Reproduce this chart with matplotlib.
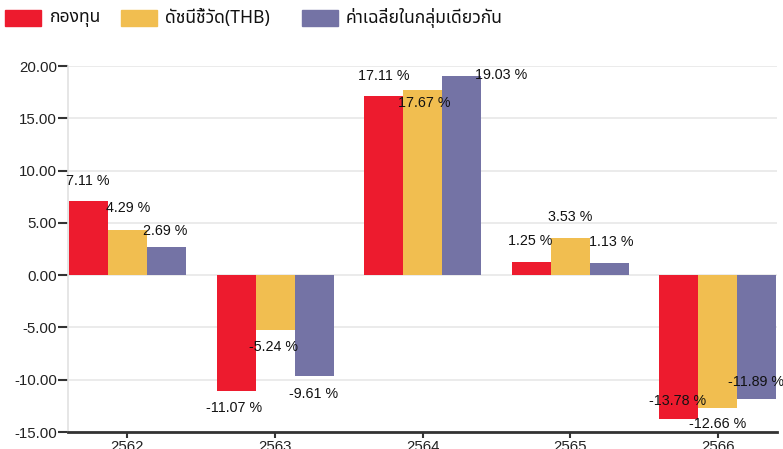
import matplotlib
matplotlib.use('Agg')
import matplotlib.pyplot as plt
from matplotlib import font_manager
from matplotlib.patches import Rectangle
import numpy as np

# ---------------- data ----------------
years = ['2562', '2563', '2564', '2565', '2566']
series_names = ['กองทุน', 'ดัชนีชี้วัด(THB)', 'ค่าเฉลี่ยในกลุ่มเดียวกัน']
fund = [7.11, -11.07, 17.11, 1.25, -13.78]
benchmark = [4.29, -5.24, 17.67, 3.53, -12.66]
peer_avg = [2.69, -9.61, 19.03, 1.13, -11.89]
yticks = [-15, -10, -5, 0, 5, 10, 15, 20]

# ---------------- style ----------------
colors = ['#ED1B2E', '#F1BE50', '#7473A5']
# label offsets in pixels: (dx from bar left edge to text left, dy from bar end to text centre)
label_offsets = [
    [(-3.5, 20), (-10.5, -17), (-6, 20), (-4, 21), (-10, 18)],
    [(-2, 22), (-7, -17), (-5, -13), (-3, 21), (-9, -16)],
    [(-4, 16), (-6, -18.5), (33, 1), (-1, 21), (-9, 17)],
]


def find_thai_font():
    try:
        from fontTools.ttLib import TTFont
    except Exception:
        return None
    found = []
    seen = set()
    for f in font_manager.fontManager.ttflist:
        if f.fname in seen:
            continue
        seen.add(f.fname)
        try:
            t = TTFont(f.fname, fontNumber=0, lazy=True)
            cmap = t.getBestCmap()
            if cmap and 0x0E01 in cmap:
                found.append(f.name)
        except Exception:
            pass
    pref = ['Tahoma', 'Noto Sans Thai', 'Noto Sans Thai UI', 'Loma', 'Garuda', 'Sarabun',
            'TH Sarabun New', 'Norasi', 'Kinnari', 'Waree', 'Umpush']
    for p in pref:
        if p in found:
            return p
    return found[0] if found else None


thai = find_thai_font()
base_family = ['Liberation Sans', 'DejaVu Sans']
thai_family = ([thai] if thai else []) + base_family
plt.rcParams['font.family'] = base_family

W, H = 783, 449
fig = plt.figure(figsize=(W / 100, H / 100), dpi=100)
ax = fig.add_axes([68 / W, (H - 432) / H, (777 - 68) / W, (432 - 66) / H])

x = np.arange(len(years))
w = 0.264
all_series = [fund, benchmark, peer_avg]
for j, vals in enumerate(all_series):
    xs = x + (j - 1) * w
    ax.bar(xs, vals, w, color=colors[j], zorder=2)
    for i, v in enumerate(vals):
        dx, dy = label_offsets[j][i]
        ax.annotate(f'{v:.2f} %', xy=(xs[i] - w / 2, v), xytext=(dx, dy),
                    textcoords='offset pixels', ha='left', va='center',
                    fontsize=10.3, color='#111111', zorder=5, annotation_clip=False)

ax.set_xlim(-0.403, 4.40)
ax.set_ylim(-15, 20)
ax.set_yticks(yticks)
ax.set_yticklabels([f'{t:.2f}' for t in yticks])
ax.set_xticks(x)
ax.set_xticklabels(years)

ax.yaxis.grid(True, color='#e8e8e8', lw=1.2, zorder=0)
ax.set_axisbelow(True)
for s in ['top', 'right']:
    ax.spines[s].set_visible(False)
ax.spines['left'].set_color('#e2e2e2')
ax.spines['left'].set_linewidth(1.2)
ax.spines['bottom'].set_color('#333333')
ax.spines['bottom'].set_linewidth(2)
ax.tick_params(axis='y', length=7, width=1.5, color='#333333', pad=1,
               labelsize=10.8, labelcolor='#222222')
ax.tick_params(axis='x', length=4, width=1.5, color='#333333', pad=1.5,
               labelsize=10.8, labelcolor='#222222')

# legend (manual placement)
rect_x = [5, 121, 302]
text_x = [50, 165, 346]
for j, name in enumerate(series_names):
    fig.patches.append(Rectangle((rect_x[j] / W, 1 - 26 / H), 36 / W, 16 / H,
                                 transform=fig.transFigure, color=colors[j]))
    fig.text(text_x[j] / W, 1 - 18 / H, name, va='center', ha='left',
             fontsize=12.6, family=thai_family, color='#111111', fontweight='medium')

fig.savefig('out.png', dpi=100)
